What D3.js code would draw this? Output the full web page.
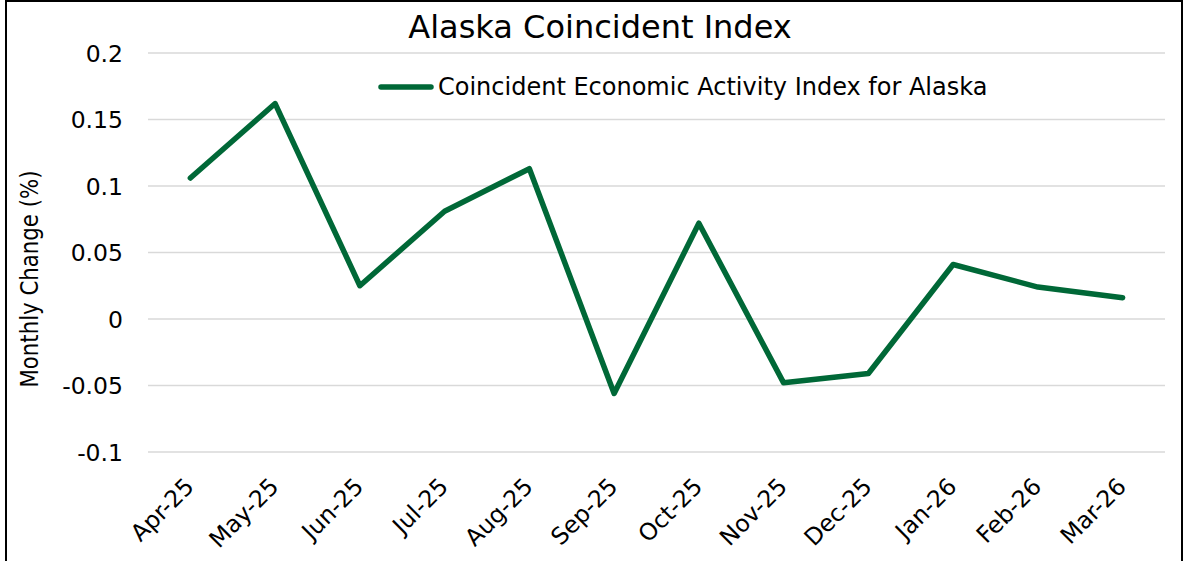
<!DOCTYPE html>
<html>
<head>
<meta charset="utf-8">
<script src="https://cdn.jsdelivr.net/npm/d3@7"></script>
<style>
  html, body { margin: 0; padding: 0; background: #fff; }
  svg { display: block; }
  text { font-family: "DejaVu Sans", Verdana, sans-serif; fill: #000; }
</style>
</head>
<body>
<svg id="chart" width="1183" height="561"></svg>
<script>
const categories = ["Apr-25","May-25","Jun-25","Jul-25","Aug-25","Sep-25","Oct-25","Nov-25","Dec-25","Jan-26","Feb-26","Mar-26"];
const values = [0.106, 0.162, 0.025, 0.081, 0.113, -0.056, 0.072, -0.048, -0.041, 0.041, 0.024, 0.016];
const yTicks = [-0.1, -0.05, 0, 0.05, 0.1, 0.15, 0.2];
const yTickLabels = ["-0.1", "-0.05", "0", "0.05", "0.1", "0.15", "0.2"];
const seriesName = "Coincident Economic Activity Index for Alaska";
const titleText = "Alaska Coincident Index";
const yTitle = "Monthly Change (%)";

(function () {
const svg = d3.select("#chart");
const plotL = 148, plotR = 1165, plotT = 53, plotB = 452;
const green = "#006837";
const ff = "DejaVu Sans, Verdana, sans-serif";

// frame
svg.append("rect").attr("x", 6).attr("y", 1).attr("width", 1176).attr("height", 600)
  .attr("fill", "none").attr("stroke", "#000").attr("stroke-width", 2);

const x = d3.scaleBand().domain(categories).range([plotL, plotR]).padding(0);
const y = d3.scaleLinear().domain([-0.1, 0.2]).range([plotB, plotT]);

// gridlines
svg.append("g").selectAll("line").data(yTicks).join("line")
  .attr("x1", plotL).attr("x2", plotR)
  .attr("y1", d => y(d)).attr("y2", d => y(d))
  .attr("stroke", "#d9d9d9").attr("stroke-width", 1.5);

// y axis labels
const yAxis = d3.axisLeft(y).tickValues(yTicks).tickSize(0).tickPadding(0)
  .tickFormat((d, i) => yTickLabels[i]);
const gy = svg.append("g").attr("transform", "translate(123,0)").call(yAxis);
gy.select(".domain").remove();
gy.selectAll("text").attr("font-size", 23.5).attr("font-family", ff)
  .attr("dy", "0.36em").attr("fill", "#000");

// x axis labels
const xAxis = d3.axisBottom(x).tickSize(0).tickPadding(0);
const gx = svg.append("g").attr("transform", `translate(0,${plotB})`).call(xAxis);
gx.select(".domain").remove();
gx.selectAll("text")
  .attr("font-size", 23.5).attr("font-family", ff).attr("fill", "#000")
  .attr("text-anchor", "end")
  .attr("dy", 0).attr("y", 0)
  .attr("transform", "translate(5,36) rotate(-45)");

// line
const line = d3.line().x((d, i) => x(categories[i]) + x.bandwidth() / 2).y(d => y(d));
svg.append("path").datum(values).attr("d", line)
  .attr("fill", "none").attr("stroke", green).attr("stroke-width", 5.5)
  .attr("stroke-linejoin", "round").attr("stroke-linecap", "round");

// title
svg.append("text").attr("x", 600).attr("y", 38).attr("text-anchor", "middle")
  .attr("font-size", 32).text(titleText);

// legend
svg.append("line").attr("x1", 381).attr("x2", 431).attr("y1", 87).attr("y2", 87)
  .attr("stroke", green).attr("stroke-width", 5.5).attr("stroke-linecap", "round");
svg.append("text").attr("x", 438).attr("y", 95).attr("font-size", 24).text(seriesName);

// y title
svg.append("text").attr("transform", "translate(38,279) rotate(-90)").attr("text-anchor", "middle")
  .attr("font-size", 24.5).attr("textLength", 217).attr("lengthAdjust", "spacingAndGlyphs")
  .text(yTitle);
})();
</script>
</body>
</html>
